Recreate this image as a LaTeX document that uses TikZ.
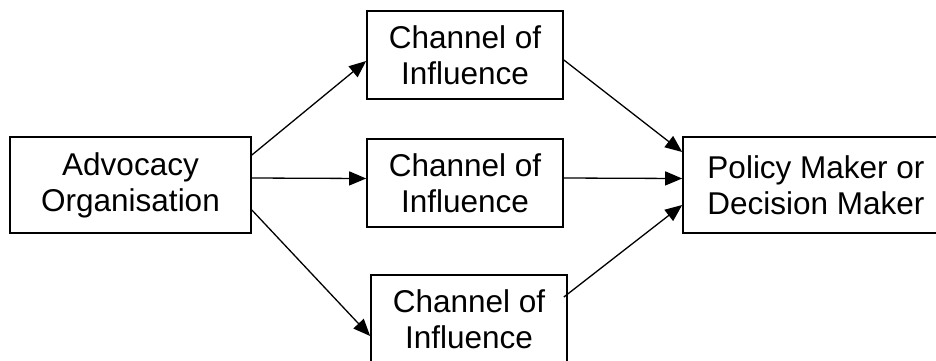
\documentclass[tikz,border=0pt]{standalone}
\usepackage{fontspec}
\setmainfont{Liberation Sans}
\usetikzlibrary{arrows.meta}
\begin{document}
\begin{tikzpicture}[x=1pt,y=-1pt,
  box/.style={draw=black, line width=1.7pt, rectangle, inner sep=0pt, align=center,
    font=\fontsize{31.5}{36}\selectfont, text=black},
  conn/.style={draw=black, line width=1.3pt, -{Triangle[length=17pt,width=14pt]}}]
\useasboundingbox (0,0) rectangle (936,360);
\clip (0,0) rectangle (936,360);
\fill[white] (0,0) rectangle (936,360);
\node[box, minimum width=241pt, minimum height=96pt] (adv) at (130.5,185) {Advocacy\\Organisation};
\node[box, minimum width=196pt, minimum height=88pt] (ch1) at (465,55) {Channel of\\Influence};
\node[box, minimum width=196pt, minimum height=88pt] (ch2) at (465,183) {Channel of\\Influence};
\node[box, minimum width=196pt, minimum height=88pt] (ch3) at (469,319) {Channel of\\Influence};
\node[box, minimum width=266pt, minimum height=96pt] (pm) at (816,185) {Policy Maker or\\Decision Maker};
\draw[conn] ([yshift=30pt]adv.east) -- ([yshift=-6pt]ch1.west);
\draw[conn] ([yshift=7pt]adv.east) -- ([yshift=4.5pt]ch2.west);
\draw[conn] ([yshift=-25pt]adv.east) -- ([yshift=-17pt]ch3.west);
\draw[conn] ([yshift=-5pt]ch1.east) -- ([yshift=33pt]pm.west);
\draw[conn] ([yshift=5pt]ch2.east) -- ([yshift=6.5pt]pm.west);
\draw[conn] ([xshift=-4pt,yshift=22pt]ch3.east) -- ([yshift=-20pt]pm.west);
\end{tikzpicture}
\end{document}
